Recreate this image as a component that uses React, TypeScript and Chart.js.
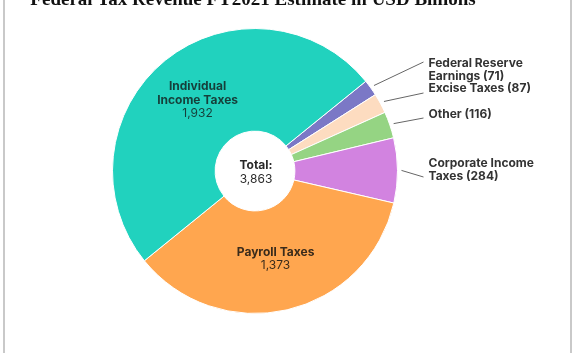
import React, { useEffect, useRef } from "react";
import { Chart, registerables } from "chart.js";

Chart.register(...registerables);

const titleText = "Federal Tax Revenue FY2021 Estimate in USD Billions";
const categories = [
  "Federal Reserve Earnings",
  "Excise Taxes",
  "Other",
  "Corporate Income Taxes",
  "Payroll Taxes",
  "Individual Income Taxes",
];
const values = [71, 87, 116, 284, 1373, 1932];
const labelLines = [
  ["Federal Reserve", "Earnings"],
  ["Excise Taxes"],
  ["Other"],
  ["Corporate Income", "Taxes"],
  ["Payroll Taxes"],
  ["Individual", "Income Taxes"],
];
const sliceColors = ["#7b78c6", "#fddcc0", "#95d483", "#d283e0", "#ffa64f", "#21d2be"];
const insideSlices = [4, 5];
const insideTextColors = ["#3a2b1b", "#163f3a"];
// outside label placement relative to pie centre (px): first text line centre, leader end
const outsideLayout = [
  { textDy: -108, lineDy: -109 },
  { textDy: -83, lineDy: -78 },
  { textDy: -57, lineDy: -53 },
  { textDy: -8, lineDy: 6 },
];

const FONT = "Inter, 'Noto Sans', sans-serif";

const fmt = (n: number) => n.toLocaleString("en-US");

const labelPlugin = {
  id: "customLabels",
  beforeDraw(chart: any) {
    const ctx = chart.ctx;
    ctx.save();
    ctx.strokeStyle = "#c9c9c9";
    ctx.lineWidth = 2;
    [4, 571].forEach((x) => {
      ctx.beginPath();
      ctx.moveTo(x, 0);
      ctx.lineTo(x, chart.height);
      ctx.stroke();
    });
    ctx.restore();
  },
  afterDatasetsDraw(chart: any) {
    const ctx = chart.ctx;
    const meta = chart.getDatasetMeta(0);
    const arcs = meta.data;
    ctx.save();
    // title (cropped at top as in reference)
    ctx.fillStyle = "#111";
    ctx.font = "bold 19px 'Liberation Serif', 'DejaVu Serif', serif";
    ctx.textAlign = "center";
    ctx.textBaseline = "alphabetic";
    ctx.fillText(titleText, 253, 5);

    let cx = 0;
    let cy = 0;
    let outsideIdx = 0;
    arcs.forEach((arc: any, i: number) => {
      const p = arc.getProps(["x", "y", "startAngle", "endAngle", "outerRadius", "innerRadius"], true);
      cx = p.x;
      cy = p.y;
      const mid = (p.startAngle + p.endAngle) / 2;
      const k = insideSlices.indexOf(i);
      if (k >= 0) {
        const pos = arc.tooltipPosition(true);
        const lines = labelLines[i];
        const lh = 14;
        const total = lines.length + 1;
        const startY = pos.y - ((total - 1) * lh) / 2;
        ctx.fillStyle = insideTextColors[k];
        ctx.textAlign = "center";
        ctx.textBaseline = "middle";
        ctx.font = `bold 12px ${FONT}`;
        lines.forEach((l, j) => ctx.fillText(l, pos.x, startY + j * lh));
        ctx.font = `12px ${FONT}`;
        ctx.fillText(fmt(values[i]), pos.x, startY + lines.length * lh - 1);
      } else {
        const lay = outsideLayout[outsideIdx++];
        const sx = p.x + Math.cos(mid) * (p.outerRadius + 4);
        const sy = p.y + Math.sin(mid) * (p.outerRadius + 4);
        const ex = p.x + p.outerRadius + 26;
        const ey = p.y + lay.lineDy;
        ctx.strokeStyle = "#666";
        ctx.lineWidth = 1;
        ctx.beginPath();
        ctx.moveTo(sx, sy);
        ctx.lineTo(ex, ey);
        ctx.stroke();
        const lines = labelLines[i].slice();
        lines[lines.length - 1] = `${lines[lines.length - 1]} (${values[i]})`;
        ctx.fillStyle = "#333";
        ctx.textAlign = "left";
        ctx.textBaseline = "middle";
        ctx.font = `bold 12px ${FONT}`;
        lines.forEach((l, j) => ctx.fillText(l, p.x + p.outerRadius + 31, p.y + lay.textDy + j * 13.5));
      }
    });
    // centre total
    const sum = values.reduce((a, b) => a + b, 0);
    ctx.fillStyle = "#2a2a2a";
    ctx.textAlign = "center";
    ctx.textBaseline = "middle";
    ctx.font = `bold 12px ${FONT}`;
    ctx.fillText("Total:", cx + 1, cy - 6);
    ctx.font = `12px ${FONT}`;
    ctx.fillText(fmt(sum), cx + 1, cy + 8);
    ctx.restore();
  },
};

export default function App() {
  const ref = useRef<HTMLCanvasElement>(null);
  useEffect(() => {
    if (!ref.current) return;
    const chart = new Chart(ref.current, {
      type: "doughnut",
      data: {
        labels: categories,
        datasets: [
          {
            data: values,
            backgroundColor: sliceColors,
            borderColor: "#ffffff",
            borderWidth: 1,
          },
        ],
      },
      options: {
        animation: false,
        responsive: false,
        rotation: 51,
        cutout: "28%",
        layout: { padding: { left: 112, right: 178, top: 28, bottom: 39 } },
        plugins: {
          legend: { display: false },
          tooltip: { enabled: false },
          title: { display: false },
        },
      },
      plugins: [labelPlugin],
    });
    return () => chart.destroy();
  }, []);
  return (
    <div style={{ position: "fixed", left: 0, top: 0, width: 576, height: 353, background: "#fff" }}>
      <canvas ref={ref} width={576} height={353} style={{ display: "block" }} />
    </div>
  );
}
